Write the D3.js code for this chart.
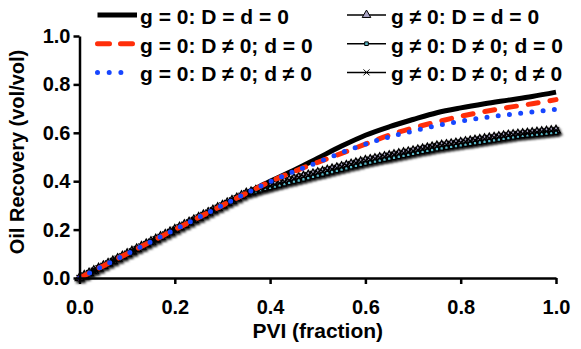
<!DOCTYPE html>
<html lang="en">
<head>
  <meta charset="UTF-8">
  <title>Oil Recovery vs PVI</title>
  <script src="https://d3js.org/d3.v7.min.js"></script>
  <style>
    body {
      margin: 0;
      background: #fff;
    }
    text {
      font-family: "Liberation Sans", Arial, sans-serif;
      font-weight: bold;
      fill: #000;
    }
  </style>
</head>
<body>
  <div id="chart"></div>

  <script>
    // PVI grid for the smooth g = 0 curves
    const pviCoarse = [0, 0.05, 0.1, 0.15, 0.2, 0.25, 0.3, 0.35, 0.4, 0.45, 0.5,
      0.55, 0.6, 0.65, 0.7, 0.75, 0.8, 0.85, 0.9, 0.95, 1.0];

    const recNoGravity = [0, 0.05, 0.10, 0.15, 0.20, 0.25, 0.30, 0.35, 0.40, 0.445, 0.495,
      0.545, 0.59, 0.625, 0.655, 0.683, 0.703, 0.72, 0.735, 0.75, 0.768];
    const recDispersion = [0, 0.05, 0.10, 0.15, 0.20, 0.25, 0.30, 0.35, 0.398, 0.44, 0.478,
      0.515, 0.553, 0.59, 0.62, 0.645, 0.668, 0.688, 0.705, 0.72, 0.737];
    const recDiffusion = [0, 0.05, 0.10, 0.15, 0.20, 0.25, 0.30, 0.35, 0.398, 0.44, 0.478,
      0.518, 0.553, 0.583, 0.607, 0.63, 0.648, 0.663, 0.675, 0.686, 0.697];

    // g != 0 curves are plotted with a marker every 0.01 PVI (index * 0.01)
    const pviStep = 0.01;
    const recGravity = [
      0, 0.01, 0.02, 0.03, 0.04, 0.05, 0.06, 0.07, 0.08, 0.09,
      0.10, 0.11, 0.12, 0.13, 0.14, 0.15, 0.16, 0.17, 0.18, 0.19,
      0.20, 0.21, 0.22, 0.23, 0.24, 0.25, 0.26, 0.27, 0.28, 0.29,
      0.30, 0.31, 0.32, 0.33, 0.34, 0.35, 0.355, 0.362, 0.368, 0.374,
      0.380, 0.386, 0.392, 0.398, 0.404, 0.41, 0.415, 0.42, 0.425, 0.43,
      0.435, 0.44, 0.445, 0.45, 0.455, 0.46, 0.465, 0.47, 0.475, 0.48,
      0.485, 0.489, 0.493, 0.497, 0.501, 0.505, 0.509, 0.513, 0.517, 0.521,
      0.525, 0.529, 0.533, 0.537, 0.541, 0.545, 0.548, 0.551, 0.554, 0.557,
      0.56, 0.563, 0.566, 0.569, 0.572, 0.575, 0.578, 0.581, 0.584, 0.587,
      0.59, 0.592, 0.594, 0.596, 0.598, 0.60, 0.602, 0.604, 0.606, 0.608,
      0.61
    ];
    const recGravityDisp = [
      0, 0.01, 0.02, 0.03, 0.04, 0.05, 0.06, 0.07, 0.08, 0.09,
      0.10, 0.11, 0.12, 0.13, 0.14, 0.15, 0.16, 0.17, 0.18, 0.19,
      0.20, 0.21, 0.22, 0.23, 0.24, 0.25, 0.26, 0.27, 0.28, 0.29,
      0.30, 0.31, 0.32, 0.33, 0.34, 0.348, 0.353, 0.358, 0.363, 0.368,
      0.373, 0.378, 0.383, 0.388, 0.393, 0.398, 0.403, 0.408, 0.413, 0.418,
      0.423, 0.428, 0.433, 0.438, 0.443, 0.448, 0.453, 0.458, 0.463, 0.468,
      0.473, 0.477, 0.481, 0.485, 0.489, 0.493, 0.497, 0.501, 0.505, 0.509,
      0.513, 0.517, 0.521, 0.525, 0.529, 0.533, 0.536, 0.539, 0.542, 0.545,
      0.548, 0.551, 0.554, 0.557, 0.56, 0.563, 0.566, 0.569, 0.572, 0.575,
      0.578, 0.581, 0.584, 0.587, 0.589, 0.591, 0.593, 0.595, 0.597, 0.599,
      0.601
    ];
    // the third g != 0 case sits on top of the first one in the picture
    const recGravityDiff = recGravity;

    const legendLabels = [
      "g = 0: D = d = 0", "g = 0: D \u2260 0; d = 0", "g = 0: D \u2260 0; d \u2260 0",
      "g \u2260 0: D = d = 0", "g \u2260 0: D \u2260 0; d = 0", "g \u2260 0: D \u2260 0; d \u2260 0"
    ];
    const yTicks = [0, 0.2, 0.4, 0.6, 0.8, 1.0];
    const xTicks = [0, 0.2, 0.4, 0.6, 0.8, 1.0];

    const width = 581;
    const height = 349;
    const margin = { top: 36, right: 25, bottom: 71, left: 79.5 };

    const svg = d3.select("#chart")
      .append("svg")
      .attr("width", width)
      .attr("height", height);

    // soft shadow used by the marker series
    const defs = svg.append("defs");
    defs.append("filter")
      .attr("id", "shadow")
      .attr("x", "-10%").attr("y", "-10%")
      .attr("width", "130%").attr("height", "130%")
      .append("feDropShadow")
      .attr("dx", 1.5).attr("dy", 2)
      .attr("stdDeviation", 1.3)
      .attr("flood-color", "#000")
      .attr("flood-opacity", 0.9);

    const x = d3.scaleLinear().domain([0, 1]).range([margin.left, width - margin.right]);
    const y = d3.scaleLinear().domain([0, 1]).range([height - margin.bottom, margin.top]);

    // marker shapes
    const triPath = d3.symbol().type(d3.symbolTriangle).size(32)();
    const sqPath = d3.symbol().type(d3.symbolSquare).size(13)();
    const xPath = "M-3,-3L3,3M-3,3L3,-3";

    const markerSeries = [
      { values: recGravity, path: triPath, fill: "#a9a4c4" },
      { values: recGravityDisp, path: sqPath, fill: "#5ab8c8" },
      { values: recGravityDiff, path: xPath, fill: "none" }
    ];

    const lineSeries = [
      { values: recNoGravity, color: "#000", width: 5, dash: null },
      { values: recDispersion, color: "#ff2e0a", width: 5, dash: "10,12" },
      { values: recDiffusion, color: "#1746ff", width: 5, dash: "0,11.3" }
    ];

    // g != 0 series (drawn first, under the smooth curves)
    const markerLine = d3.line()
      .x((d, i) => x(i * pviStep))
      .y(d => y(d));

    const lower = svg.append("g").attr("filter", "url(#shadow)");
    markerSeries.forEach(s => {
      lower.append("path")
        .attr("d", markerLine(s.values))
        .attr("fill", "none")
        .attr("stroke", "#000")
        .attr("stroke-width", 1.5);
    });
    markerSeries.forEach(s => {
      lower.selectAll(null)
        .data(s.values)
        .enter()
        .append("path")
        .attr("d", s.path)
        .attr("transform", (d, i) => `translate(${x(i * pviStep)},${y(d)})`)
        .attr("fill", s.fill)
        .attr("stroke", "#000")
        .attr("stroke-width", 1.3);
    });

    // g = 0 series
    const smoothLine = d3.line()
      .x((d, i) => x(pviCoarse[i]))
      .y(d => y(d))
      .curve(d3.curveMonotoneX);

    lineSeries.forEach(s => {
      svg.append("path")
        .attr("d", smoothLine(s.values))
        .attr("fill", "none")
        .attr("stroke", s.color)
        .attr("stroke-width", s.width)
        .attr("stroke-linecap", s.dash ? "round" : "butt")
        .attr("stroke-dasharray", s.dash);
    });

    // Axes
    const xAxis = svg.append("g")
      .attr("transform", `translate(0,${height - margin.bottom})`)
      .call(d3.axisBottom(x).tickValues(xTicks).tickFormat(d3.format(".1f"))
        .tickSize(6).tickSizeOuter(0).tickPadding(16));

    const yAxis = svg.append("g")
      .attr("transform", `translate(${margin.left},0)`)
      .call(d3.axisLeft(y).tickValues(yTicks).tickFormat(d3.format(".1f"))
        .tickSize(6).tickSizeOuter(0).tickPadding(3));

    [xAxis, yAxis].forEach(a => {
      a.select(".domain").attr("stroke", "#000").attr("stroke-width", 2.5);
      a.selectAll(".tick line").attr("stroke", "#000").attr("stroke-width", 2.5);
      a.selectAll(".tick text")
        .attr("font-size", 20)
        .attr("font-family", "'Liberation Sans', Arial, sans-serif")
        .attr("font-weight", "bold")
        .attr("fill", "#000");
    });

    // Axis titles
    svg.append("text")
      .attr("x", (x(0) + x(1)) / 2)
      .attr("y", 338)
      .attr("text-anchor", "middle")
      .attr("font-size", 21)
      .text("PVI (fraction)");

    svg.append("text")
      .attr("transform", `translate(24,152) rotate(-90)`)
      .attr("text-anchor", "middle")
      .attr("font-size", 20)
      .text("Oil Recovery (vol/vol)");

    // Legend
    const rowY = [15, 43.7, 72.4];
    const legend = svg.append("g");

    lineSeries.forEach((s, i) => {
      legend.append("line")
        .attr("x1", 97.5).attr("x2", s.dash ? 132.5 : 137)
        .attr("y1", rowY[i]).attr("y2", rowY[i])
        .attr("stroke", s.color)
        .attr("stroke-width", s.width)
        .attr("stroke-linecap", s.dash ? "round" : "butt")
        .attr("stroke-dasharray", i === 1 ? "12,11" : (i === 2 ? "0,11.7" : null));
      legend.append("text")
        .attr("x", 140).attr("y", rowY[i] + 9)
        .attr("font-size", 21)
        .text(legendLabels[i]);
    });

    markerSeries.forEach((s, i) => {
      legend.append("line")
        .attr("x1", 347).attr("x2", 386)
        .attr("y1", rowY[i]).attr("y2", rowY[i])
        .attr("stroke", "#000")
        .attr("stroke-width", 1.5);
      legend.append("path")
        .attr("d", s.path)
        .attr("transform", `translate(366.5,${rowY[i]})`)
        .attr("fill", s.fill)
        .attr("stroke", "#000")
        .attr("stroke-width", 1);
      legend.append("text")
        .attr("x", 391).attr("y", rowY[i] + 9)
        .attr("font-size", 21)
        .text(legendLabels[i + 3]);
    });
  </script>
</body>
</html>
